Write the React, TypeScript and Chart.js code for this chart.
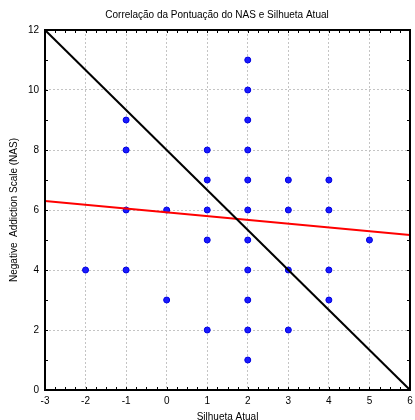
import React, { useEffect, useRef } from "react";
import { Chart, registerables } from "chart.js";

Chart.register(...registerables);

const chartTitle = "Correlação da Pontuação do NAS e Silhueta Atual";
const xTitle = "Silhueta Atual";
const yTitle = "Negative  Addiction Scale (NAS)";

const pointX = [
  -2,
  -1, -1, -1, -1,
  0, 0,
  1, 1, 1, 1, 1,
  2, 2, 2, 2, 2, 2, 2, 2, 2, 2, 2,
  3, 3, 3, 3,
  4, 4, 4, 4,
  5,
];
const pointY = [
  4,
  9, 8, 6, 4,
  6, 3,
  8, 7, 6, 5, 2,
  11, 10, 9, 8, 7, 6, 5, 4, 3, 2, 1,
  7, 6, 4, 2,
  7, 6, 4, 3,
  5,
];

const blackLineX = [-3, 6];
const blackLineY = [12, 0];
const redLineX = [-3, 6];
const redLineY = [6.3, 5.17];

const xMin = -3;
const xMax = 6;
const yMin = 0;
const yMax = 12;
const xMinorStep = 0.25;
const yMinorStep = 1;

const FONT = "'Liberation Sans', Arial, sans-serif";

const framePlugin = {
  id: "frameTicks",
  afterDatasetsDraw(chart: any) {
    const { ctx, chartArea } = chart;
    const { left, right, top, bottom } = chartArea;
    const xs = chart.scales.x;
    const ys = chart.scales.y;
    ctx.save();
    ctx.strokeStyle = "#000";
    ctx.lineWidth = 1;
    const tl = 3;
    ctx.beginPath();
    for (let v = xMin; v <= xMax + 1e-9; v += xMinorStep) {
      const px = Math.round(xs.getPixelForValue(v)) + 0.5;
      ctx.moveTo(px, bottom);
      ctx.lineTo(px, bottom - tl);
      ctx.moveTo(px, top);
      ctx.lineTo(px, top + tl);
    }
    for (let v = yMin; v <= yMax + 1e-9; v += yMinorStep) {
      const py = Math.round(ys.getPixelForValue(v)) + 0.5;
      ctx.moveTo(left, py);
      ctx.lineTo(left + tl, py);
      ctx.moveTo(right, py);
      ctx.lineTo(right - tl, py);
    }
    ctx.stroke();
    ctx.lineWidth = 2;
    ctx.strokeRect(left, top, right - left, bottom - top);
    ctx.fillStyle = "#000";
    ctx.font = `10px ${FONT}`;
    ctx.textAlign = "center";
    ctx.textBaseline = "middle";
    ctx.fillText(chartTitle, 217, 15);
    ctx.restore();
  },
};

export default function App() {
  const ref = useRef<HTMLCanvasElement | null>(null);
  useEffect(() => {
    if (!ref.current) return;
    const scatter = pointX.map((x, i) => ({ x, y: pointY[i] }));
    const black = blackLineX.map((x, i) => ({ x, y: blackLineY[i] }));
    const red = redLineX.map((x, i) => ({ x, y: redLineY[i] }));
    const chart = new Chart(ref.current, {
      type: "scatter",
      data: {
        datasets: [
          {
            type: "line",
            data: black,
            borderColor: "#000",
            borderWidth: 2,
            pointRadius: 0,
            showLine: true,
            fill: false,
          } as any,
          {
            type: "line",
            data: red,
            borderColor: "#ff0000",
            borderWidth: 2,
            pointRadius: 0,
            showLine: true,
            fill: false,
          } as any,
          {
            data: scatter,
            backgroundColor: "#1a1aff",
            borderColor: "#0000e0",
            borderWidth: 1,
            pointRadius: 3,
          },
        ],
      },
      options: {
        responsive: false,
        animation: false,
        layout: { padding: { top: 30, right: 4, left: 0, bottom: 0 } },
        plugins: {
          legend: { display: false },
          tooltip: { enabled: false },
          title: { display: false },
        },
        scales: {
          x: {
            type: "linear",
            min: xMin,
            max: xMax,
            afterFit: (s: any) => {
              s.height = 30;
              s.paddingLeft = 0;
              s.paddingRight = 0;
            },
            ticks: {
              stepSize: 1,
              color: "#000",
              font: { family: FONT, size: 10 },
              padding: 5,
              maxRotation: 0,
            },
            grid: {
              color: "#c4c4c4",
              lineWidth: 1,
              drawTicks: false,
            },
            border: { display: false, dash: [2, 2] },
            title: {
              display: true,
              text: xTitle,
              color: "#000",
              font: { family: FONT, size: 10 },
              padding: { top: 0, bottom: -3 },
            },
          },
          y: {
            type: "linear",
            min: yMin,
            max: yMax,
            afterFit: (s: any) => {
              s.width = 45;
              s.paddingTop = 0;
              s.paddingBottom = 0;
            },
            ticks: {
              stepSize: 2,
              color: "#000",
              font: { family: FONT, size: 10 },
              padding: 6,
            },
            grid: {
              color: "#c4c4c4",
              lineWidth: 1,
              drawTicks: false,
            },
            border: { display: false, dash: [2, 2] },
            title: {
              display: true,
              text: yTitle,
              color: "#000",
              font: { family: FONT, size: 10 },
              padding: { top: 8, bottom: 0 },
            },
          },
        },
      },
      plugins: [framePlugin],
    });
    return () => chart.destroy();
  }, []);
  return (
    <div style={{ position: "absolute", left: 0, top: 0, width: 415, height: 420, background: "#fff" }}>
      <canvas ref={ref} width={415} height={420} />
    </div>
  );
}
